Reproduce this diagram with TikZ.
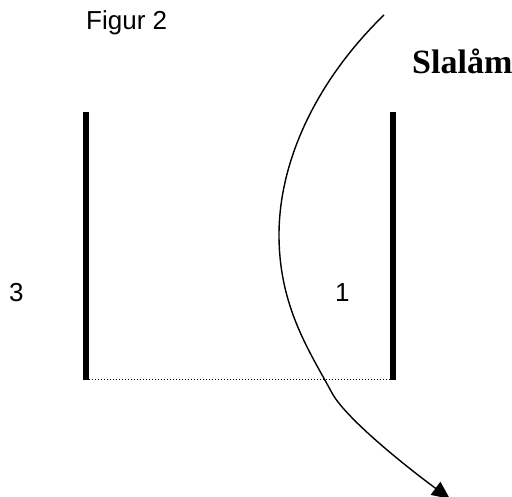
\documentclass[tikz,border=0pt]{standalone}
\usepackage{fontspec}
\setmainfont{Liberation Serif}
\setsansfont{Liberation Sans}
\usetikzlibrary{arrows.meta}
\begin{document}
\begin{tikzpicture}[x=1pt,y=1pt,
  pole/.style={line width=5.5pt},
  gateline/.style={line width=1pt,dotted},
  path/.style={line width=1.4pt,-{Triangle[length=18pt,width=16pt]}},
  lbl/.style={font=\sffamily\fontsize{26}{30}\selectfont,inner sep=0pt,anchor=base west}]
\useasboundingbox (0,0) rectangle (512,497);
\clip (0,0) rectangle (512,497);
\coordinate (lt) at (86,385);
\coordinate (lb) at (86,117);
\coordinate (rt) at (393,385);
\coordinate (rb) at (393,117);
\draw[pole] (lt) -- (lb);
\draw[pole] (rt) -- (rb);
\draw[gateline] (lb) -- (rb);
\node[lbl] (fig) at (86,467) {Figur 2};
\node[font=\bfseries\fontsize{34}{38}\selectfont,inner sep=0pt,anchor=base west] (title) at (412,423) {Slalåm};
\node[lbl] (n3) at (9,195) {3};
\node[lbl] (n1) at (335,195) {1};
\coordinate (start) at (384,482);
\coordinate (left) at (279,262);
\coordinate (exit) at (332,104);
\coordinate (tip) at (450,-2);
\draw[path] (start) .. controls (320,420) and (279,340) .. (left)
  .. controls (279,190) and (310,145) .. (exit)
  .. controls (345,80) and (400,35) .. (tip);
\end{tikzpicture}
\end{document}
